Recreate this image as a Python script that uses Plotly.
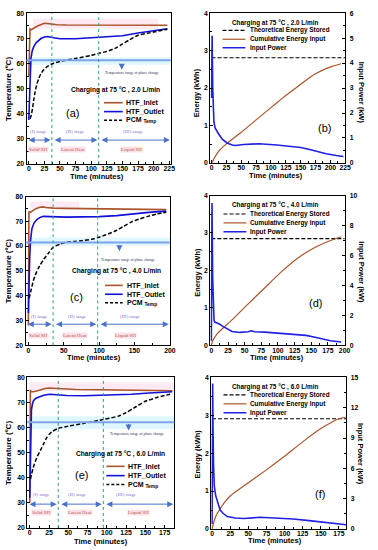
import plotly.graph_objects as go

W, H = 378, 550
FONT = "Liberation Sans"
SERIF = "Liberation Serif"
BROWN = "#A9552B"
BLUE = "#1010D8"
PBLUE = "#2020E0"
GREEN = "#2AA27A"
ABLUE = "#4A72C8"

def X(px):
    return px / W

def Y(py):
    return 1 - py / H

# ---------------- data ----------------
# (a) 2.0 L/min
t_in_a = [0, 0.5, 1, 2, 4, 6, 10, 15, 20, 25, 30, 35, 45, 60, 80, 100, 125, 150, 175, 200, 222]
in_a = [55, 65, 73.5, 73.7, 73.4, 73.6, 74.3, 75.0, 75.6, 76.0, 75.9, 75.7, 75.4, 75.3, 75.3, 75.2, 75.2, 75.2, 75.2, 75.2, 75.2]
t_out_a = [0, 0.8, 1.6, 2.5, 3.5, 5.5, 8, 12, 16, 20, 25, 30, 40, 50, 75, 100, 125, 150, 175, 200, 222]
out_a = [37.5, 44, 52, 58, 62, 65, 66.7, 68.3, 69.3, 70.0, 70.5, 70.7, 70.2, 69.8, 69.8, 70.1, 70.4, 71.0, 72.1, 73.1, 73.8]
t_pcm_a = [2, 4, 6, 8, 10, 13, 16, 19, 24, 30, 35, 40, 50, 75, 100, 112, 125, 140, 150, 160, 175, 190, 200, 222]
pcm_a = [38, 39.5, 42, 45.5, 48.5, 51.8, 54, 55.7, 57.5, 58.8, 59.6, 60.1, 60.8, 62.0, 63.2, 64.0, 64.8, 66.2, 67.8, 69.2, 71.2, 72.0, 72.5, 73.6]
stage_a = [37, 112]
phase_a = 61.3

# (c) 4.0 L/min
t_in_c = [0, 0.3, 0.8, 1.5, 3, 6, 10, 15, 20, 25, 35, 50, 75, 100, 125, 150, 175, 195]
in_c = [28, 55, 74, 73.6, 73.7, 74.3, 75.0, 75.6, 75.8, 75.6, 75.3, 75.2, 75.1, 75.1, 75.0, 74.9, 74.8, 74.7]
t_out_c = [0, 0.5, 1, 2, 3, 5, 8, 12, 16, 21, 30, 40, 54, 75, 100, 125, 146, 170, 195]
out_c = [33, 36, 45, 56, 62, 67, 69.3, 70.7, 71.5, 72.0, 71.9, 71.8, 71.7, 71.8, 71.9, 72.3, 73.0, 73.6, 74.1]
t_pcm_c = [1, 2, 4, 7, 10, 14, 17, 22, 28, 35, 45, 53, 65, 76, 90, 99, 110, 122, 135, 146, 158, 169, 182, 195]
pcm_c = [39, 40, 42.5, 46, 48.5, 51, 52.5, 54.8, 57, 59.5, 60.8, 61.5, 61.9, 62.2, 62.8, 63.5, 64.6, 66.0, 68.0, 69.8, 71.0, 72.0, 73.0, 73.7]
stage_c = [35, 98]
phase_c = 61.5

# (e) 6.0 L/min
t_in_e = [0, 0.3, 0.8, 2, 5, 10, 15, 20, 25, 30, 40, 60, 90, 120, 150, 185]
in_e = [30, 55, 75, 74.3, 74.3, 74.7, 75.2, 75.6, 75.8, 75.7, 75.4, 75.2, 75.1, 75.0, 74.9, 74.7]
t_out_e = [0, 0.5, 1, 1.5, 2.2, 3.5, 5, 8, 11.5, 18, 26, 35, 48, 70, 90, 110, 132, 155, 185]
out_e = [32, 38, 50, 60, 67, 69.5, 70.8, 71.7, 72.2, 72.9, 73.3, 73.1, 72.8, 72.7, 72.8, 73.0, 73.3, 73.8, 74.3]
t_pcm_e = [1, 2, 4, 6, 10, 14, 18, 22, 26, 30, 37, 50, 69, 96, 115, 125, 135, 150, 165, 175, 185]
pcm_e = [39.5, 41, 43.5, 45.5, 48.6, 51, 53.5, 56, 57.6, 58.6, 59.7, 60.6, 61.6, 63.3, 64.6, 66.0, 67.8, 70.5, 72.0, 72.8, 73.5]
stage_e = [37, 95.5]
phase_e = 62.2

# (b) 2.0 L/min energy / power
t_en_b = [0, 2, 5, 10, 15, 25, 50, 75, 110, 125, 150, 164, 175, 190, 203, 218]
en_b = [0, 0.05, 0.14, 0.27, 0.37, 0.51, 0.82, 1.15, 1.61, 1.8, 2.1, 2.27, 2.38, 2.5, 2.58, 2.65]
t_pw_b = [0, 0.5, 1, 1.5, 2, 3, 4, 6, 8, 12, 18, 26, 35, 40, 54, 80, 110, 137, 150, 165, 180, 193, 210, 222]
pw_b = [2.6, 3.5, 5.1, 4.0, 3.0, 2.0, 1.65, 1.4, 1.3, 1.16, 0.95, 0.8, 0.72, 0.7, 0.74, 0.77, 0.72, 0.67, 0.62, 0.54, 0.45, 0.37, 0.3, 0.26]
theo_t_b = [0, 225]
theo_b = [2.81, 2.81]

# (d) 4.0 L/min
t_en_d = [0, 2, 6, 10, 20, 31, 55, 80, 105, 129, 154, 179, 195]
en_d = [0, 0.12, 0.24, 0.33, 0.5, 0.68, 1.1, 1.53, 1.96, 2.32, 2.6, 2.8, 2.9]
t_pw_d = [0, 0.5, 1, 1.5, 2, 3, 4, 5, 8, 12, 18, 25, 31, 43, 55, 60, 65, 80, 105, 129, 142, 154, 165, 179, 195]
pw_d = [0.3, 5, 9.5, 7, 4.5, 2.3, 1.7, 1.55, 1.5, 1.42, 1.25, 1.05, 0.92, 0.86, 0.9, 0.97, 0.9, 0.88, 0.8, 0.72, 0.66, 0.55, 0.42, 0.3, 0.22]
theo_t_d = [0, 200]
theo_d = [2.85, 2.85]

# (f) 6.0 L/min
t_en_f = [0, 2, 5, 10, 18, 25, 50, 75, 100, 125, 150, 165, 175, 184]
en_f = [0, 0.15, 0.33, 0.5, 0.72, 0.87, 1.22, 1.56, 1.92, 2.3, 2.65, 2.82, 2.91, 2.95]
t_pw_f = [0, 0.4, 0.8, 1.3, 2, 3, 5, 8, 11, 15, 21, 32, 44, 66, 89, 112, 134, 157, 180, 185]
pw_f = [0.5, 8, 14.4, 10, 6.5, 4.3, 3.3, 2.5, 1.9, 1.55, 1.22, 1.08, 1.04, 1.15, 1.08, 0.98, 0.82, 0.62, 0.45, 0.42]
theo_t_f = [0, 185]
theo_f = [2.91, 2.91]

flows = ["2.0", "4.0", "6.0"]

# ---------------- figure ----------------
fig = go.Figure()

left = [
    dict(xa="x", ya="y", tin=t_in_a, vin=in_a, tout=t_out_a, vout=out_a, tp=t_pcm_a, vp=pcm_a),
    dict(xa="x3", ya="y4", tin=t_in_c, vin=in_c, tout=t_out_c, vout=out_c, tp=t_pcm_c, vp=pcm_c),
    dict(xa="x5", ya="y7", tin=t_in_e, vin=in_e, tout=t_out_e, vout=out_e, tp=t_pcm_e, vp=pcm_e),
]
for p in left:
    fig.add_trace(go.Scatter(x=p["tin"], y=p["vin"], mode="lines", line=dict(color=BROWN, width=1.6),
                             xaxis=p["xa"], yaxis=p["ya"], showlegend=False))
    fig.add_trace(go.Scatter(x=p["tout"], y=p["vout"], mode="lines", line=dict(color=BLUE, width=1.6),
                             xaxis=p["xa"], yaxis=p["ya"], showlegend=False))
    fig.add_trace(go.Scatter(x=p["tp"], y=p["vp"], mode="lines", line=dict(color="black", width=1.5, dash="4px,2px", shape="spline", smoothing=0.6),
                             xaxis=p["xa"], yaxis=p["ya"], showlegend=False))

right = [
    dict(xa="x2", ya="y2", y2="y3", te=t_en_b, ve=en_b, tp=t_pw_b, vp=pw_b, tt=theo_t_b, vt=theo_b),
    dict(xa="x4", ya="y5", y2="y6", te=t_en_d, ve=en_d, tp=t_pw_d, vp=pw_d, tt=theo_t_d, vt=theo_d),
    dict(xa="x6", ya="y8", y2="y9", te=t_en_f, ve=en_f, tp=t_pw_f, vp=pw_f, tt=theo_t_f, vt=theo_f),
]
for p in right:
    fig.add_trace(go.Scatter(x=p["tt"], y=p["vt"], mode="lines", line=dict(color="black", width=1.2, dash="4px,2px"),
                             xaxis=p["xa"], yaxis=p["ya"], showlegend=False))
    fig.add_trace(go.Scatter(x=p["te"], y=p["ve"], mode="lines", line=dict(color=BROWN, width=1.2, shape="spline", smoothing=0.5),
                             xaxis=p["xa"], yaxis=p["ya"], showlegend=False))
    fig.add_trace(go.Scatter(x=p["tp"], y=p["vp"], mode="lines", line=dict(color=PBLUE, width=1.6),
                             xaxis=p["xa"], yaxis=p["y2"], showlegend=False))

tickfont = dict(family=FONT, size=6.8, color="black", weight="bold")

def xax(px0, px1, rng, dtick, mdtick, anchor):
    return dict(domain=[X(px0), X(px1)], range=rng, dtick=dtick, tick0=0, ticks="inside", ticklen=3,
                tickwidth=1, tickcolor="black", showline=True, linecolor="black", linewidth=1.2,
                mirror=True, showgrid=False, zeroline=False, tickfont=tickfont, anchor=anchor,
                ticklabelstandoff=-2,
                minor=dict(dtick=mdtick, tick0=0, ticks="inside", ticklen=2.2, tickcolor="black", showgrid=False))

def yax(py0, py1, rng, dtick, mdtick, anchor, side="left", overlay=None, mirror=True, standoff=0):
    d = dict(domain=[Y(py1), Y(py0)], range=rng, dtick=dtick, tick0=0, ticks="inside", ticklen=3,
             tickwidth=1, tickcolor="black", showline=True, linecolor="black", linewidth=1.2,
             mirror=mirror, showgrid=False, zeroline=False, tickfont=tickfont, anchor=anchor, side=side,
             ticklabelstandoff=standoff,
             minor=dict(dtick=mdtick, tick0=0, ticks="inside", ticklen=2, tickcolor="black", showgrid=False))
    if overlay:
        d["overlaying"] = overlay
    return d

rows_left = [(26, 173, 9.3, 162), (25, 172, 195, 345.7), (26.7, 176.7, 378.3, 530.7)]
rows_right = [(213.3, 350.7, 9.3, 161), (213.3, 350.7, 194, 345.7), (214.3, 351.7, 378.3, 531.7)]

layout = dict(
    width=W, height=H, margin=dict(l=0, r=0, t=0, b=0),
    paper_bgcolor="white", plot_bgcolor="rgba(0,0,0,0)", showlegend=False,
    font=dict(family=FONT, color="black"),
)
L = rows_left
R = rows_right
layout["xaxis"] = xax(L[0][0], L[0][1], [-3.6, 227.5], 25, 12.5, "y")
layout["yaxis"] = yax(L[0][2], L[0][3], [20, 80], 10, 5, "x")
layout["xaxis2"] = xax(R[0][0], R[0][1], [-2, 225], 25, 12.5, "y2")
layout["yaxis2"] = yax(R[0][2], R[0][3], [0, 4], 1, 0.5, "x2", mirror=False)
layout["yaxis3"] = yax(R[0][2], R[0][3], [0, 6], 1, 0.5, "x2", side="right", overlay="y2", mirror=False, standoff=2)
layout["xaxis3"] = xax(L[1][0], L[1][1], [-4, 200], 50, 25, "y4")
layout["yaxis4"] = yax(L[1][2], L[1][3], [20, 80], 10, 5, "x3")
layout["xaxis4"] = xax(R[1][0], R[1][1], [-1.5, 201], 25, 12.5, "y5")
layout["yaxis5"] = yax(R[1][2], R[1][3], [0, 4], 1, 0.5, "x4", mirror=False)
layout["yaxis6"] = yax(R[1][2], R[1][3], [0, 10], 2, 1, "x4", side="right", overlay="y5", mirror=False, standoff=2)
layout["xaxis5"] = xax(L[2][0], L[2][1], [-3.3, 187.8], 25, 12.5, "y7")
layout["yaxis7"] = yax(L[2][2], L[2][3], [20, 80], 10, 5, "x5")
layout["xaxis6"] = xax(R[2][0], R[2][1], [-1, 185], 25, 12.5, "y8")
layout["yaxis8"] = yax(R[2][2], R[2][3], [0, 4], 1, 0.5, "x6", mirror=False)
layout["yaxis9"] = yax(R[2][2], R[2][3], [0, 15], 3, 1.5, "x6", side="right", overlay="y8", mirror=False, standoff=2)
fig.update_layout(**layout)

shapes = []
anns = []

def txt(text, px, py, size, color="black", bold=False, family=FONT, xanchor="center", angle=0, bg=None):
    d = dict(text=text, x=X(px), y=Y(py), xref="paper", yref="paper", showarrow=False,
             xanchor=xanchor, yanchor="middle", textangle=angle,
             font=dict(family=family, size=size, color=color, weight="bold" if bold else "normal"))
    if bg:
        d["bgcolor"] = bg
        d["borderpad"] = 0
    anns.append(d)

# ---- left panels decorations ----
left_info = [
    dict(xa="x", ya="y", stage=stage_a, phase=phase_a, rng=[-3.6, 227.5], arrow_y=29.5,
         pink=[7, 207, 73.8, 77.8], cyan=[59.5, 62.5]),
    dict(xa="x3", ya="y4", stage=stage_c, phase=phase_c, rng=[-4, 200], arrow_y=28.5,
         pink=[3, 72, 75.3, 78], cyan=[60, 63.4]),
    dict(xa="x5", ya="y7", stage=stage_e, phase=phase_e, rng=[-3.3, 187.8], arrow_y=29.5,
         pink=[-1, 187, 74.5, 78], cyan=[59.5, 64.5]),
]
for p in left_info:
    xa, ya = p["xa"], p["ya"]
    pk = p["pink"]
    shapes.append(dict(type="rect", xref=xa, yref=ya, x0=pk[0], x1=pk[1], y0=pk[2], y1=pk[3],
                       fillcolor="rgba(255,185,215,0.3)", line=dict(width=0), layer="below"))
    shapes.append(dict(type="rect", xref=xa + " domain", yref=ya, x0=0, x1=1, y0=p["cyan"][0], y1=p["cyan"][1],
                       fillcolor="rgba(175,235,250,0.4)", line=dict(width=0), layer="below"))
    shapes.append(dict(type="line", xref=xa + " domain", yref=ya, x0=0, x1=1, y0=p["phase"], y1=p["phase"],
                       line=dict(color="#7FA3E8", width=2)))
    for b in p["stage"]:
        shapes.append(dict(type="line", xref=xa, yref=ya + " domain", x0=b, x1=b, y0=0, y1=1,
                           line=dict(color=GREEN, width=1, dash="dot")))
    b1, b2 = p["stage"]
    r0, r1 = p["rng"]
    segs = [(r0 + 1, b1 - 2), (b1 + 2, b2 - 2), (b2 + 2, r1 - 1.5)]
    for s0, s1 in segs:
        anns.append(dict(x=s1, y=p["arrow_y"], ax=s0, ay=p["arrow_y"], xref=xa, yref=ya, axref=xa, ayref=ya,
                         text="", showarrow=True, arrowhead=2, arrowside="end+start", arrowsize=1.2,
                         arrowwidth=1, arrowcolor=ABLUE))

# stage labels (paper px)
stage_txt = [
    [("(I) stage", 38, 129.3), ("(II) stage", 75.7, 129.3), ("(III) stage", 135, 129.3)],
    [("(I) stage", 39, 316.7), ("(II) stage", 77.5, 316.7), ("(III) stage", 131.7, 316.7)],
    [("(I) stage", 40.8, 496.7), ("(II) stage", 78.3, 496.7), ("(III) stage", 128.3, 496.7)],
]
sh_txt = [
    [("Solid SH", 38.3, 147.3), ("Latent Heat", 73.3, 147.3), ("Liquid SH", 132.5, 147.3)],
    [("Solid SH", 38.3, 336), ("Latent Heat", 75, 336), ("Liquid SH", 126.7, 336)],
    [("Solid SH", 41.7, 515), ("Latent Heat", 80, 515), ("Liquid SH", 140, 515)],
]
for row in stage_txt:
    for t, x, y in row:
        txt(t, x, y, 5, color="#8A70CC", family=SERIF)
for row in sh_txt:
    for t, x, y in row:
        txt(t, x, y, 5, color="#B85A50", family=SERIF, bg="rgba(252,222,230,0.9)")

# phase change label + arrow
phase_lbl = [(133, 70, 123, 59.5, 66.5), (129, 259, 120.7, 243, 250.5), (139, 436, 130, 424, 432)]
for tx, ty, axp, ay0, ay1 in phase_lbl:
    txt("Temperature range of phase change", tx, ty, 3.8, color="#333355", family=SERIF)
    anns.append(dict(x=X(axp), y=Y(ay1), ax=0, ay=ay0 - ay1, xref="paper", yref="paper", axref="pixel",
                     ayref="pixel", text="", showarrow=True, arrowhead=2, arrowsize=1, arrowwidth=1.2,
                     arrowcolor=ABLUE))

# left charging text, legends, panel letters
left_leg = [
    dict(cx=116.3, cy=87.3, lx0=105, lx1=124, tx=125.5, rows=[100, 109, 117.7], let=("(a)", 73.3, 110)),
    dict(cx=118, cy=270, lx0=106, lx1=124, tx=126, rows=[285, 294, 302.7], let=("(c)", 76.7, 296.7)),
    dict(cx=121.3, cy=456, lx0=107.3, lx1=126, tx=127.3, rows=[468.3, 477.7, 486.7], let=("(e)", 81.7, 476.7)),
]
for i, g in enumerate(left_leg):
    txt("Charging at 75 °C , %s L/min" % flows[i], g["cx"], g["cy"], 6.6, bold=True)
    styles = [(BROWN, None, 1.6), (BLUE, None, 1.6), ("black", "3px,2px", 1.5)]
    labels = ["HTF_Inlet", "HTF_Outlet", "PCM <sub>Temp</sub>"]
    for (c, dsh, w), lab, ry in zip(styles, labels, g["rows"]):
        ln = dict(color=c, width=w)
        if dsh:
            ln["dash"] = dsh
        shapes.append(dict(type="line", xref="paper", yref="paper", x0=X(g["lx0"]), x1=X(g["lx1"]),
                           y0=Y(ry), y1=Y(ry), line=ln))
        txt(lab, g["tx"], ry, 7, bold=True, xanchor="left")
    lt, lx, ly = g["let"]
    txt(lt, lx, ly, 11)

# right legends
right_leg = [
    dict(cx=279, cy=19.3, lx0=225.7, lx1=249, tx=251.7, rows=[26.7, 35.7, 44.3], let=("(b)", 330, 126)),
    dict(cx=279, cy=204, lx0=226.7, lx1=250, tx=251.7, rows=[212.7, 221.7, 230.7], let=("(d)", 320, 303)),
    dict(cx=279, cy=388.3, lx0=226.7, lx1=250, tx=251.7, rows=[396, 405, 414], let=("(f)", 325, 496.7)),
]
for i, g in enumerate(right_leg):
    txt("Charging at 75 °C , %s L/min" % flows[i], g["cx"], g["cy"], 6.4, bold=True)
    styles = [("black", "4px,2px", 1.2), (BROWN, None, 1.2), (PBLUE, None, 1.5)]
    labels = ["Theoretical Energy Stored", "Cumulative Energy Input", "Input Power"]
    for (c, dsh, w), lab, ry in zip(styles, labels, g["rows"]):
        ln = dict(color=c, width=w)
        if dsh:
            ln["dash"] = dsh
        shapes.append(dict(type="line", xref="paper", yref="paper", x0=X(g["lx0"]), x1=X(g["lx1"]),
                           y0=Y(ry), y1=Y(ry), line=ln))
        txt(lab, g["tx"], ry, 6.4, bold=True, xanchor="left")
    lt, lx, ly = g["let"]
    txt(lt, lx, ly, 11)

# axis titles
for cy in [85.8, 270.3, 454.5]:
    txt("Temperature (ºC)", 7.5, cy, 8, bold=True, angle=-90)
for cy in [90, 272, 456]:
    txt("Energy (kWh)", 200, cy, 7.5, bold=True, angle=-90)
    txt("Input Power (kW)", 367, cy, 7.5, bold=True, angle=90)
for (lx, ly), (rx, ry) in zip([(98, 174.5), (95, 358.5), (101.7, 544)], [(280, 174), (281, 358.5), (279, 543)]):
    txt("Time (minutes)", lx, ly, 7.5, bold=True)
    txt("Time (minutes)", rx, ry, 7.5, bold=True)

fig.update_layout(shapes=shapes, annotations=anns)
fig.write_html("out.html", config={"displayModeBar": False},
               post_script="document.body.style.margin='0px';document.body.style.overflow='hidden';")
